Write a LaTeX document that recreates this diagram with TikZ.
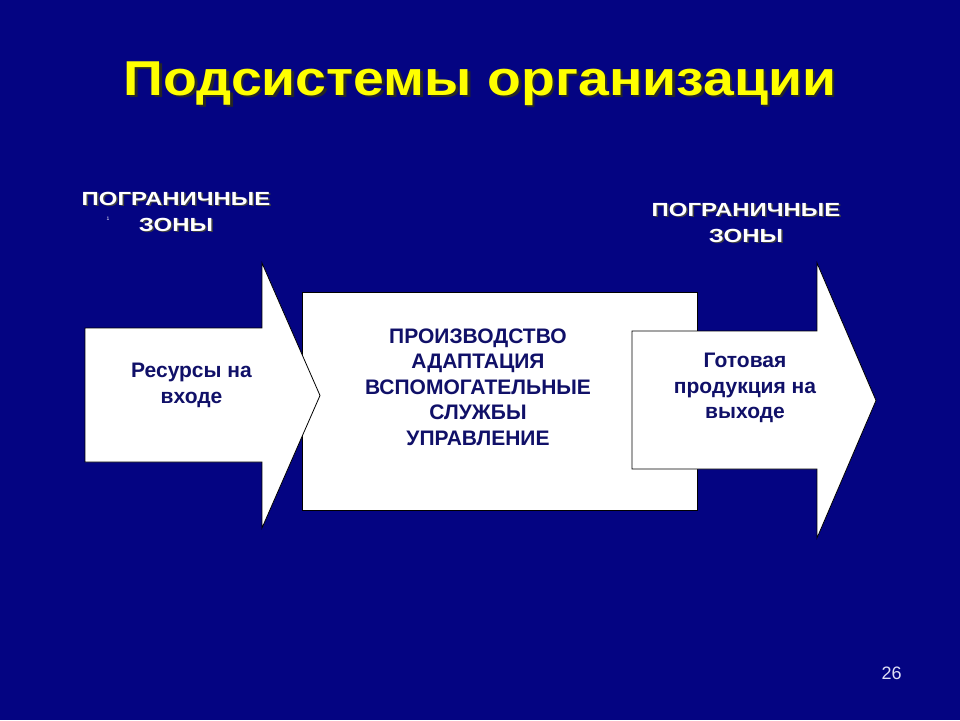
\documentclass[tikz,border=0pt]{standalone}
\usepackage{fontspec}
\setmainfont{Liberation Sans}
\newfontfamily\boldwide[FakeStretch=1.13]{Liberation Sans Bold}
\newfontfamily\zonefont[FakeStretch=1.26]{Liberation Sans Bold}
\definecolor{bgblue}{RGB}{4,4,130}
\definecolor{navytext}{RGB}{16,16,104}
\definecolor{titleyellow}{RGB}{255,255,0}
\definecolor{numcol}{RGB}{225,225,245}
\tikzset{
  shapefill/.style={fill=white, draw=black, line width=0.8pt, line join=miter},
  boxtext/.style={text=navytext, align=center, anchor=north, inner sep=0pt,
    font=\fontsize{21}{25.5}\selectfont\bfseries},
  zonetext/.style={text=white, align=center, anchor=north, inner sep=0pt,
    font=\fontsize{19}{26}\selectfont\zonefont},
  zoneshadow/.style={zonetext, text=black!75},
}
\begin{document}
\begin{tikzpicture}[x=1pt,y=-1pt]
\fill[bgblue] (0,0) rectangle (960,720);
\useasboundingbox (0,0) rectangle (960,720);
% title
\node[anchor=base, inner sep=0pt, text=black!85, font=\fontsize{49}{55}\selectfont\boldwide] (titleshadow) at (482.5,97.5) {Подсистемы организации};
\node[anchor=base, inner sep=0pt, text=titleyellow, font=\fontsize{49}{55}\selectfont\boldwide] (title) at (480,95) {Подсистемы организации};
% zone labels
\node[zoneshadow] (zl s) at (177.5,193.2) {ПОГРАНИЧНЫЕ\\ЗОНЫ};
\node[zonetext] (zl) at (176,191.7) {ПОГРАНИЧНЫЕ\\ЗОНЫ};
\node[inner sep=0pt, text=white, font=\fontsize{5}{6}\selectfont] (one) at (108,219) {1};
\node[zoneshadow] (zr s) at (747.5,204.2) {ПОГРАНИЧНЫЕ\\ЗОНЫ};
\node[zonetext] (zr) at (746,202.7) {ПОГРАНИЧНЫЕ\\ЗОНЫ};
% central box
\path[shapefill] (302,292) rectangle (697,510);
% left arrow
\path[shapefill] (85,328) -- (262,328) -- (262,263) -- (320,395.5) -- (262,528) -- (262,462) -- (85,462) -- cycle;
% right arrow
\path[shapefill] (632,331) -- (817,331) -- (817,263) -- (876,400.5) -- (817,538) -- (817,469) -- (632,469) -- cycle;
% texts
\node[boxtext] (res) at (191.5,363) {Ресурсы на\\входе};
\node[boxtext] (mid) at (478,328.3) {ПРОИЗВОДСТВО\\АДАПТАЦИЯ\\ВСПОМОГАТЕЛЬНЫЕ\\СЛУЖБЫ\\УПРАВЛЕНИЕ};
\node[boxtext] (out) at (745,353) {Готовая\\продукция на\\выходе};
\node[anchor=base, inner sep=0pt, text=numcol, font=\fontsize{18}{20}\selectfont] (page) at (891.5,679) {26};
\end{tikzpicture}
\end{document}
